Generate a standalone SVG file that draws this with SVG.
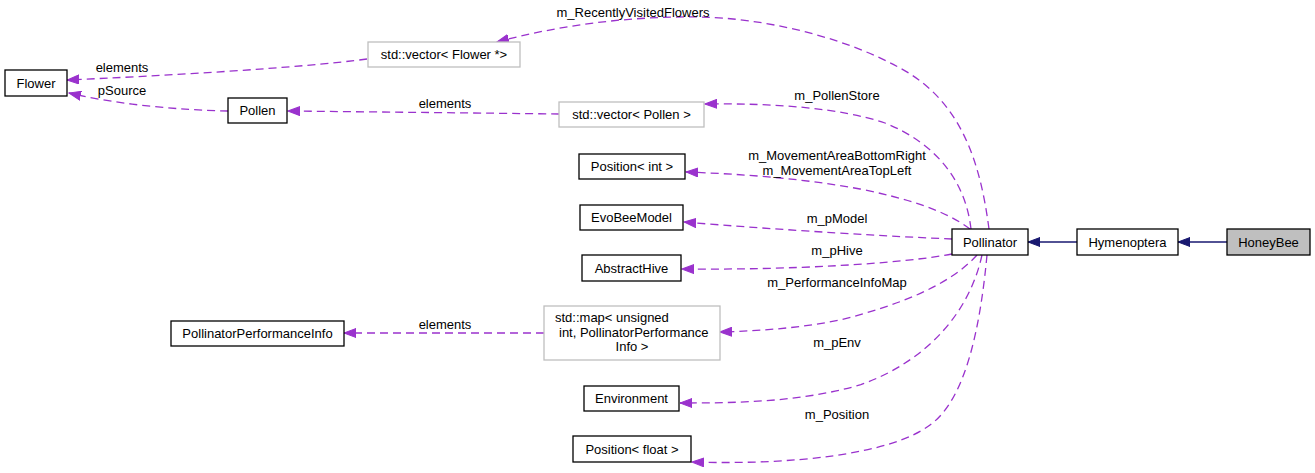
<svg xmlns="http://www.w3.org/2000/svg" width="1315" height="473" viewBox="0 0 1315 473">
<style>
text{font-family:"Liberation Sans",Arial,Helvetica,sans-serif;font-size:13px;fill:#000}
.n rect{fill:#fff;stroke:#000;stroke-width:1.3}
.g rect{fill:#fff;stroke:#bfbfbf;stroke-width:1.3}
.c text{text-anchor:middle}
.n text,.g text{text-anchor:middle}
.u{fill:none;stroke:#9a32cd;stroke-width:1.3;stroke-dasharray:8,5;marker-end:url(#pa)}
.i{fill:none;stroke:#191970;stroke-width:1.3;marker-end:url(#na)}
</style>
<defs>
<marker id="pa" markerUnits="userSpaceOnUse" markerWidth="13" markerHeight="10" refX="12" refY="5" orient="auto"><path d="M0,0.5 L12,5 L0,9.5 z" fill="#9a32cd" stroke="#9a32cd" stroke-width="1"/></marker>
<marker id="na" markerUnits="userSpaceOnUse" markerWidth="13" markerHeight="10" refX="12" refY="5" orient="auto"><path d="M0,0.5 L12,5 L0,9.5 z" fill="#191970" stroke="#191970" stroke-width="1"/></marker>
</defs>
<g id="connectors" class="c">
<path class="u" d="M989,229 C980,160 960,100 900,68 C840,35 760,18 700,17 C630,16 560,25 497,42"/>
<text x="633" y="17">m_RecentlyVisitedFlowers</text>
<path class="u" d="M367,59 C300,68 160,76 67,80"/>
<text x="122" y="72">elements</text>
<path class="u" d="M228,111 C180,110 120,105 69,93"/>
<text x="122" y="95">pSource</text>
<path class="u" d="M559,114 C480,113 380,112 288,111"/>
<text x="445" y="108">elements</text>
<path class="u" d="M971,229 C966,185 940,145 885,123 C840,108 775,103 705,104"/>
<text x="837" y="100">m_PollenStore</text>
<path class="u" d="M970,229 C945,210 905,198 860,189 C800,178 740,174 686,172"/>
<text x="837" y="160">m_MovementAreaBottomRight</text>
<text x="837" y="175">m_MovementAreaTopLeft</text>
<path class="u" d="M952,239 C900,237 780,230 684,222"/>
<text x="837" y="223">m_pModel</text>
<path class="u" d="M952,254 C900,264 790,270 682,269"/>
<text x="837" y="255">m_pHive</text>
<path class="u" d="M977,255 C950,285 900,305 840,320 C800,328 760,331 720,332"/>
<text x="837" y="287">m_PerformanceInfoMap</text>
<path class="u" d="M544,333 L344,333"/>
<text x="445" y="329">elements</text>
<path class="u" d="M982,255 C970,310 930,360 860,385 C800,402 740,403 680,403"/>
<text x="837" y="347">m_pEnv</text>
<path class="u" d="M987,255 C980,330 965,400 930,425 C890,455 790,465 692,462"/>
<text x="837" y="419">m_Position</text>
<path class="i" d="M1077,242 L1028,242"/>
<path class="i" d="M1227,242 L1178,242"/>
</g>
<g id="Flower" class="n"><rect x="5" y="70" width="62" height="26"/><text x="36" y="87.5">Flower</text></g>
<g id="vectorFlower" class="g"><rect x="368" y="42" width="152" height="25"/><text x="444" y="59">std::vector&lt; Flower *&gt;</text></g>
<g id="Pollen" class="n"><rect x="228" y="98" width="59" height="25"/><text x="257.5" y="115">Pollen</text></g>
<g id="vectorPollen" class="g"><rect x="559" y="102" width="145" height="25"/><text x="631.5" y="119">std::vector&lt; Pollen &gt;</text></g>
<g id="PositionInt" class="n"><rect x="579" y="154" width="106" height="25"/><text x="632" y="171">Position&lt; int &gt;</text></g>
<g id="EvoBeeModel" class="n"><rect x="580" y="205" width="103" height="25"/><text x="631.5" y="222">EvoBeeModel</text></g>
<g id="AbstractHive" class="n"><rect x="582" y="255" width="99" height="26"/><text x="631.5" y="272.5">AbstractHive</text></g>
<g id="PollinatorPerformanceInfo" class="n"><rect x="171" y="321" width="173" height="25"/><text x="257.5" y="338">PollinatorPerformanceInfo</text></g>
<g id="mapPerf" class="g"><rect x="544" y="306" width="176" height="54"/><text x="555" y="322" style="text-anchor:start">std::map&lt; unsigned</text><text x="559" y="337" style="text-anchor:start">int, PollinatorPerformance</text><text x="632" y="351">Info &gt;</text></g>
<g id="Environment" class="n"><rect x="584" y="386" width="95" height="25"/><text x="631.5" y="403">Environment</text></g>
<g id="PositionFloat" class="n"><rect x="573" y="436" width="118" height="26"/><text x="632" y="453.5">Position&lt; float &gt;</text></g>
<g id="Pollinator" class="n"><rect x="952" y="229" width="76" height="26"/><text x="990" y="246.5">Pollinator</text></g>
<g id="Hymenoptera" class="n"><rect x="1077" y="229" width="101" height="26"/><text x="1127.5" y="246.5">Hymenoptera</text></g>
<g id="HoneyBee" class="n"><rect x="1227" y="229" width="83" height="26" style="fill:#bfbfbf"/><text x="1268.5" y="246.5">HoneyBee</text></g>
</svg>
